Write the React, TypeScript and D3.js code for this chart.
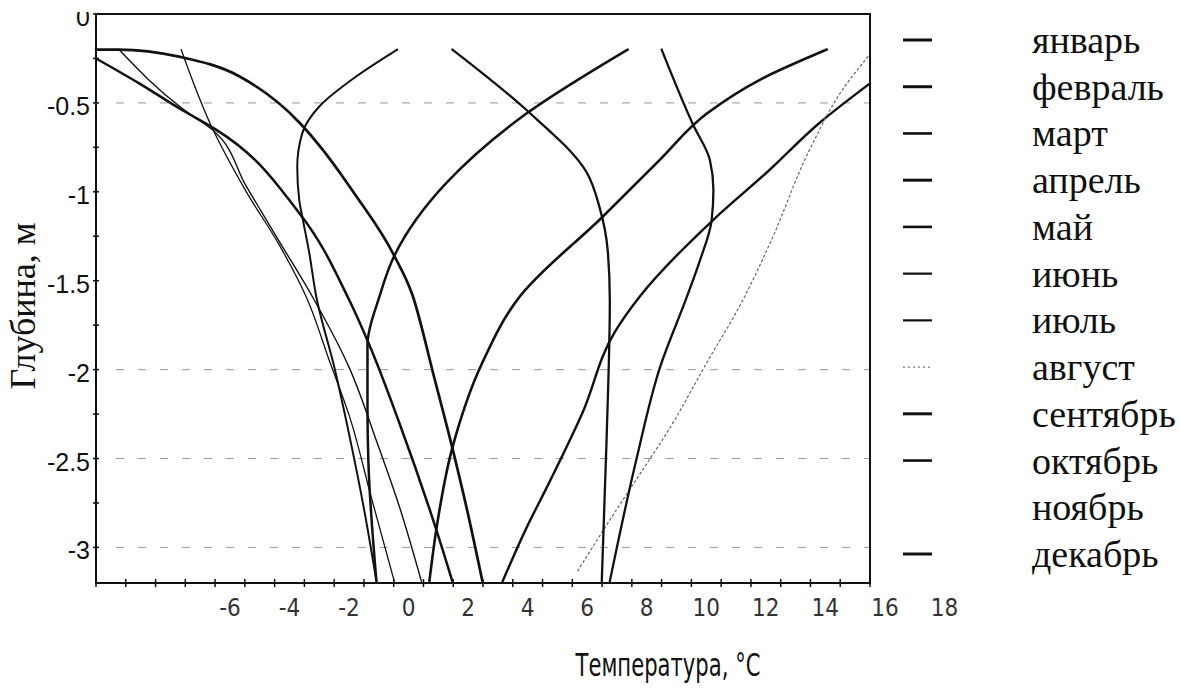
import React, { useRef, useEffect } from "react";
import * as d3 from "d3";

// Месяцы в легенде
const months = ["январь", "февраль", "март", "апрель", "май", "июнь", "июль", "август", "сентябрь", "октябрь", "ноябрь", "декабрь"];

// Профили: температура (°C) и глубина (м)
const janT = [-10.5, -9.05, -7.61, -6.47, -3.67, -1.99, -1.32, -0.31, 0.93, 1.47];
const janD = [-0.25, -0.39, -0.54, -0.65, -1.12, -1.61, -1.86, -2.3, -2.9, -3.19];
const febT = [-9.73, -7.61, -6.6, -5.45, -4.34, -3.23, -1.99, -1.08, -0.31, 0.43];
const febD = [-0.2, -0.53, -0.65, -0.97, -1.28, -1.59, -1.99, -2.4, -2.77, -3.19];
const marT = [-7.64, -6.6, -5.45, -4.34, -3.44, -2.66, -1.99, -1.25, -0.48];
const marD = [-0.2, -0.64, -1.0, -1.3, -1.59, -1.95, -2.26, -2.72, -3.19];
const aprT = [-0.38, -1.75, -3.0, -3.57, -3.74, -3.67, -3.57, -3.34, -3.1, -2.49, -1.99, -1.49, -1.08];
const aprD = [-0.2, -0.35, -0.52, -0.67, -0.86, -1.05, -1.14, -1.34, -1.59, -1.99, -2.37, -2.79, -3.19];
const mayT = [7.36, 3.96, 1.27, -0.48, -0.98, -1.38, -1.38, -1.35, -1.08];
const mayD = [-0.2, -0.56, -0.95, -1.36, -1.59, -1.86, -2.22, -2.52, -3.19];
const junT = [14.05, 11.8, 10.02, 8.44, 6.52, 3.73, 2.48, 1.47, 0.94, 0.7];
const junD = [-0.2, -0.37, -0.56, -0.82, -1.14, -1.59, -1.96, -2.44, -2.89, -3.19];
const julT = [15.5, 13.82, 12.04, 10.22, 7.76, 6.92, 5.85, 4.74, 3.96, 3.16];
const julD = [-0.39, -0.61, -0.89, -1.16, -1.59, -1.79, -2.24, -2.63, -2.89, -3.19];
const augT = [15.43, 14.6, 13.48, 12.14, 11.13, 10.02, 8.77, 7.76, 6.86, 5.65];
const augD = [-0.24, -0.42, -0.76, -1.29, -1.64, -1.96, -2.33, -2.59, -2.82, -3.14];
const sepT = [8.5, 9.55, 10.12, 10.24, 10.18, 9.78, 9.35, 8.44, 7.66, 6.76];
const sepD = [-0.2, -0.62, -0.82, -0.99, -1.16, -1.39, -1.59, -1.99, -2.5, -3.19];
const octT = [1.47, 3.96, 5.98, 6.42, 6.69, 6.76, 6.65, 6.49];
const octD = [-0.2, -0.54, -0.89, -1.09, -1.33, -1.61, -2.4, -3.19];
const novT: number[] = [];
const novD: number[] = [];
const decT = [-10.5, -9.73, -7.71, -5.69, -3.67, -2.9, -1.82, -0.48, 0.13, 0.87, 1.47, 1.98, 2.48];
const decD = [-0.2, -0.2, -0.24, -0.35, -0.61, -0.76, -1.01, -1.36, -1.58, -2.05, -2.44, -2.8, -3.19];

const monthT = [janT, febT, marT, aprT, mayT, junT, julT, augT, sepT, octT, novT, decT];
const monthD = [janD, febD, marD, aprD, mayD, junD, julD, augD, sepD, octD, novD, decD];

// Оси
const depthTicks = [0, -0.5, -1, -1.5, -2, -2.5, -3];
const tempLabels = [-6, -4, -2, 0, 2, 4, 6, 8, 10, 12, 14, 16, 18];
const gridDepths = [-0.5, -2, -2.5, -3];

// Стили линий (толщина на графике, толщина в легенде, штрих)
const curveWidth = [2.5, 1.4, 1.3, 2, 2.5, 2.6, 2.4, 1.2, 2.3, 2.3, 0, 2.7];
const legendWidth = [3, 3, 2.6, 3, 2.6, 2.2, 2.2, 1.2, 3, 2.6, 0, 3];
const dashes = ["", "", "", "", "", "", "", "2 3", "", "", "", ""];

const App = () => {
  const svgRef = useRef(null);

  useEffect(() => {
    const svg = d3.select(svgRef.current);
    svg.selectAll("*").remove();

    const left = 96, right = 870, top = 14, bottom = 583;

    const x = d3.scaleLinear().domain([-10.5, 15.5]).range([left, right]);
    const y = d3.scaleLinear().domain([0, -3.2]).range([top, bottom]);

    // the "0" label is cut at the top in the original
    svg.append("defs").append("clipPath").attr("id", "lblclip")
      .append("rect").attr("x", 0).attr("y", 12).attr("width", 100).attr("height", 700);

    // gridlines
    svg.append("g")
      .selectAll("line")
      .data(gridDepths)
      .enter()
      .append("line")
      .attr("x1", left + 20)
      .attr("x2", right)
      .attr("y1", (d) => y(d))
      .attr("y2", (d) => y(d))
      .attr("stroke", "#999")
      .attr("stroke-width", 1)
      .attr("stroke-dasharray", "8 14");

    // curves: profiles are interpolated along depth, the December one along temperature
    const lineY = d3.line().x((d) => x(d[0])).y((d) => y(d[1])).curve(d3.curveMonotoneY);
    const lineX = d3.line().x((d) => x(d[0])).y((d) => y(d[1])).curve(d3.curveMonotoneX);

    months.forEach((m, i) => {
      const pts = monthT[i].map((t, k) => [t, monthD[i][k]]);
      if (!pts.length) return;
      svg
        .append("path")
        .attr("d", (i === 11 ? lineX : lineY)(pts))
        .attr("fill", "none")
        .attr("stroke", i === 7 ? "#666" : "#111")
        .attr("stroke-width", curveWidth[i])
        .attr("stroke-dasharray", dashes[i] || null)
        .attr("stroke-linecap", "round");
    });

    // frame
    svg.append("rect")
      .attr("x", left).attr("y", top)
      .attr("width", right - left).attr("height", bottom - top)
      .attr("fill", "none").attr("stroke", "#111").attr("stroke-width", 2);

    // bottom ticks
    svg.append("g")
      .selectAll("line")
      .data(d3.range(-10.5, 15.6, 1))
      .enter()
      .append("line")
      .attr("x1", (d) => x(d)).attr("x2", (d) => x(d))
      .attr("y1", bottom - 4).attr("y2", bottom + 4)
      .attr("stroke", "#111").attr("stroke-width", 1.5);

    // left ticks
    svg.append("g")
      .selectAll("line")
      .data(d3.range(0, -3.21, -0.25))
      .enter()
      .append("line")
      .attr("x1", left - 3).attr("x2", left + 3)
      .attr("y1", (d) => y(d)).attr("y2", (d) => y(d))
      .attr("stroke", "#111").attr("stroke-width", 1.5);

    // y labels
    svg.append("g")
      .attr("clip-path", "url(#lblclip)")
      .selectAll("text")
      .data(depthTicks)
      .enter()
      .append("text")
      .attr("x", 90)
      .attr("y", (d) => y(d) + 3)
      .attr("text-anchor", "end")
      .attr("dominant-baseline", "central")
      .attr("font-family", "'Liberation Sans', Arial, sans-serif")
      .attr("font-size", 25)
      .attr("fill", "#111")
      .text((d) => String(d));

    // x labels
    svg.append("g")
      .selectAll("text")
      .data(tempLabels)
      .enter()
      .append("text")
      .attr("x", (d) => x(d))
      .attr("y", 608)
      .attr("text-anchor", "middle")
      .attr("dominant-baseline", "central")
      .attr("font-family", "'Liberation Sans Narrow', 'DejaVu Sans Condensed', 'Liberation Sans', sans-serif")
      .attr("font-size", 24)
      .attr("fill", "#333")
      .text((d) => String(d));

    // axis titles
    svg.append("text")
      .attr("transform", "translate(23,306) rotate(-90)")
      .attr("text-anchor", "middle")
      .attr("dominant-baseline", "central")
      .attr("font-family", "'Liberation Serif', 'Times New Roman', serif")
      .attr("font-size", 36)
      .attr("fill", "#111")
      .text("Глубина, м");

    svg.append("text")
      .attr("x", 668)
      .attr("y", 665)
      .attr("text-anchor", "middle")
      .attr("dominant-baseline", "central")
      .attr("font-family", "'DejaVu Sans', 'Noto Sans', sans-serif")
      .attr("font-size", 32)
      .attr("textLength", 185)
      .attr("lengthAdjust", "spacingAndGlyphs")
      .attr("fill", "#111")
      .text("Температура, °C");

    // legend
    const ly = d3.scaleLinear().domain([0, 11]).range([40, 554]);
    const lg = svg.append("g");
    months.forEach((m, i) => {
      if (legendWidth[i] > 0) {
        lg.append("line")
          .attr("x1", 903).attr("x2", 932)
          .attr("y1", ly(i)).attr("y2", ly(i))
          .attr("stroke", i === 7 ? "#777" : "#111")
          .attr("stroke-width", legendWidth[i])
          .attr("stroke-dasharray", dashes[i] || null);
      }
      lg.append("text")
        .attr("x", 1032)
        .attr("y", ly(i))
        .attr("dominant-baseline", "central")
        .attr("font-family", "'Liberation Serif', 'Times New Roman', serif")
        .attr("font-size", 38)
        .attr("fill", "#111")
        .text(m);
    });
  }, []);

  return (
    <svg
      ref={svgRef}
      width={1180}
      height={700}
      style={{ position: "absolute", left: 0, top: 0, background: "#fff" }}
    ></svg>
  );
};

export default App;
